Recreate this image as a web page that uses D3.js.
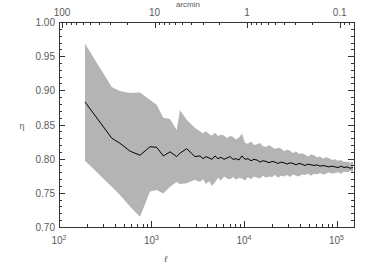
<!DOCTYPE html>
<html><head><meta charset="utf-8">
<script src="https://cdn.jsdelivr.net/npm/d3@7"></script>
<style>body{margin:0;background:#fff}svg{display:block}text{font-family:"Liberation Sans",Arial,sans-serif;fill:#5a5a5a}</style>
</head><body>
<script>
const ell = [191,372,456,586,751,964,1138,1342,1585,1871,2032,2400,2951,3343,3606,3882,4188,4510,4855,5236,5636,6081,6546,7063,7603,8204,8831,9506,10250,11040,11910,12820,13830,14890,16030,17300,18620,20090,21630,23330,25120,27040,29170,31410,33880,36480,39360,42370,45610,49200,52970,57150,61520,66370,71450,76910,82980,89330,96380,103800,111900,120500,130000,140000,150700];
const etaMean = [0.883,0.830,0.8225,0.811,0.805,0.8175,0.8166,0.804,0.810,0.803,0.808,0.8146,0.803,0.804,
  0.800,0.803,0.801,0.799,0.804,0.800,0.802,0.799,0.801,0.803,0.799,0.800,0.798,0.804,0.799,0.800,0.797,0.799,0.798,0.795,0.797,0.796,0.794,0.796,0.795,0.793,0.795,0.794,0.792,0.794,0.793,0.791,0.793,0.792,0.790,0.792,0.791,0.790,0.791,0.789,0.790,0.789,0.788,0.789,0.788,0.787,0.789,0.787,0.788,0.786,0.787];
const etaUpper = [0.968,0.905,0.899,0.896,0.897,0.886,0.879,0.860,0.858,0.842,0.871,0.857,0.845,0.840,
  0.837,0.840,0.836,0.834,0.838,0.833,0.835,0.834,0.830,0.833,0.832,0.828,0.831,0.837,0.823,0.822,0.825,0.820,0.821,0.823,0.818,0.817,0.820,0.817,0.814,0.816,0.815,0.811,0.813,0.812,0.808,0.811,0.807,0.808,0.806,0.803,0.806,0.805,0.802,0.803,0.800,0.802,0.801,0.798,0.799,0.797,0.798,0.795,0.796,0.794,0.795];
const etaLower = [0.797,0.759,0.747,0.730,0.715,0.752,0.754,0.749,0.759,0.766,0.763,0.764,0.769,0.766,
  0.770,0.763,0.767,0.760,0.765,0.772,0.768,0.774,0.771,0.770,0.773,0.769,0.772,0.771,0.768,0.773,0.770,0.774,0.772,0.771,0.775,0.772,0.774,0.773,0.776,0.772,0.775,0.774,0.776,0.773,0.777,0.775,0.774,0.777,0.776,0.778,0.775,0.778,0.777,0.779,0.777,0.778,0.780,0.778,0.779,0.780,0.778,0.781,0.780,0.782,0.781];
const yTicks = [0.70,0.75,0.80,0.85,0.90,0.95,1.00];
const xTickExps = [2,3,4,5];
const arcTicks = [100,10,1,0.1];
const arcLabels = ["100","10","1","0.1"];

const W=374,H=280, L=59, R=354, T=22, B=227;
const svg=d3.select("body").append("svg").attr("width",W).attr("height",H);
const x=d3.scaleLog().domain([100,Math.pow(10,2+(R-L)/92.5)]).range([L,R]);
const y=d3.scaleLinear().domain([0.70,1.00]).range([B,T]);
const data=ell.map((l,i)=>({l,m:etaMean[i],u:etaUpper[i],lo:etaLower[i]}));

svg.append("path").datum(data).attr("fill","#b4b4b4")
  .attr("d",d3.area().x(d=>x(d.l)).y0(d=>y(d.lo)).y1(d=>y(d.u)));
svg.append("path").datum(data).attr("fill","none").attr("stroke","#000").attr("stroke-width",1)
  .attr("d",d3.line().x(d=>x(d.l)).y(d=>y(d.m)));

const ax="#333";
const g=svg.append("g").attr("stroke",ax).attr("stroke-width",1).attr("shape-rendering","crispEdges");
g.append("rect").attr("x",L).attr("y",T).attr("width",R-L).attr("height",B-T).attr("fill","none");
for(let v=70;v<=100;v++){
  const yy=Math.round(y(v/100))+0.5, major=v%5===0, len=major?6:3;
  g.append("line").attr("x1",L).attr("x2",L+len).attr("y1",yy).attr("y2",yy);
  g.append("line").attr("x1",R-len).attr("x2",R).attr("y1",yy).attr("y2",yy);
}
svg.selectAll(".yl").data(yTicks).enter().append("text").attr("x",L-4).attr("y",d=>y(d)+4)
  .attr("text-anchor","end").attr("font-size",10).text(d=>d.toFixed(2));
const xd=x.domain();
for(let e=2;e<=5;e++)for(let k=1;k<=9;k++){
  const v=k*Math.pow(10,e); if(v<xd[0]||v>xd[1])continue;
  const xx=Math.round(x(v))+0.5, len=k===1?6:3;
  g.append("line").attr("x1",xx).attr("x2",xx).attr("y1",B).attr("y2",B-len);
}
const xl=svg.selectAll(".xl").data(xTickExps).enter().append("text").attr("x",d=>x(Math.pow(10,d))).attr("y",B+17)
  .attr("text-anchor","middle").attr("font-size",10);
xl.append("tspan").text("10");
xl.append("tspan").attr("dy",-4).attr("font-size",7).text(d=>d);
for(let e=-2;e<=2;e++)for(let k=1;k<=9;k++){
  const th=k*Math.pow(10,e), l=10800/th; if(l<xd[0]||l>xd[1])continue;
  const xx=Math.round(x(l))+0.5, len=k===1?6:3;
  g.append("line").attr("x1",xx).attr("x2",xx).attr("y1",T).attr("y2",T+len);
}
svg.selectAll(".tl").data(arcTicks).enter().append("text").attr("x",d=>x(10800/d)).attr("y",T-6)
  .attr("text-anchor","middle").attr("font-size",10).text((d,i)=>arcLabels[i]);
svg.append("text").attr("x",188).attr("y",7).attr("text-anchor","middle").attr("font-size",8).text("arcmin");
svg.append("text").attr("x",22).attr("y",129).attr("text-anchor","middle").attr("font-size",9).text("η");
svg.append("text").attr("x",166).attr("y",262).attr("text-anchor","middle").attr("font-size",9).attr("font-style","italic").text("ℓ");
</script>
</body></html>
